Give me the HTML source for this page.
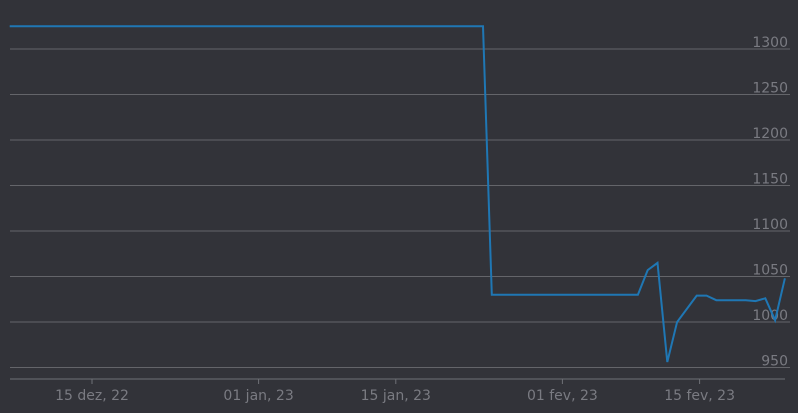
<!DOCTYPE html>
<html><head><meta charset="utf-8"><style>
html,body{margin:0;padding:0;background:#323339;}
svg{display:block;font-family:"DejaVu Sans","Liberation Sans",sans-serif;}
</style></head><body>
<svg id="chart" width="798" height="413" viewBox="0 0 798 413"></svg>
<script>
// days relative to 15 Dec 2022
const days = [-8.4, 39.9, 40.8, 55.7, 56.7, 57.7, 58.7, 59.7, 61.7, 62.7, 63.7, 66.7, 67.7, 68.7, 69.7, 70.7];
const values = [1325, 1325, 1030, 1030, 1057, 1065, 956, 1000, 1029, 1029, 1024, 1024, 1023, 1026, 1002, 1048];
const yTicks = [950, 1000, 1050, 1100, 1150, 1200, 1250, 1300];
const xTickDays = [0, 17, 31, 48, 62];
const xTickLabels = ["15 dez, 22", "01 jan, 23", "15 jan, 23", "01 fev, 23", "15 fev, 23"];

const NS = "http://www.w3.org/2000/svg";
const svg = document.getElementById("chart");
const xs = d => 92 + d * 9.8;
const ys = v => 322 - (v - 1000) * 0.91;
function mk(tag, attrs, parent) {
  const e = document.createElementNS(NS, tag);
  for (const k in attrs) e.setAttribute(k, attrs[k]);
  (parent || svg).appendChild(e);
  return e;
}
yTicks.forEach(v => {
  const g = mk("line", {x1: 10, x2: 790, y1: ys(v), y2: ys(v), stroke: "#64656a", "stroke-width": 1});
  
  
  const t = mk("text", {x: 788, y: ys(v) - 2, "text-anchor": "end", fill: "#7a7b82", "font-size": 14});
  t.textContent = v;
  
  
});
const ax = mk("line", {x1: 10, x2: 785, y1: 379, y2: 379, stroke: "#6e7076", "stroke-width": 1});


xTickDays.forEach((d, i) => {
  const tk = mk("line", {x1: xs(d), x2: xs(d), y1: 379, y2: 384, stroke: "#6e7076"});
  
  
  const t = mk("text", {x: xs(d), y: 400, "text-anchor": "middle", fill: "#7a7b82", "font-size": 14});
  t.textContent = xTickLabels[i];
  
  
});
const pts = days.map((d, i) => xs(d).toFixed(1) + "," + ys(values[i]).toFixed(1)).join(" ");
const line = mk("polyline", {points: pts, fill: "none", stroke: "#1f77b4", "stroke-width": 2, "stroke-linejoin": "miter"});


</script>
</body></html>
